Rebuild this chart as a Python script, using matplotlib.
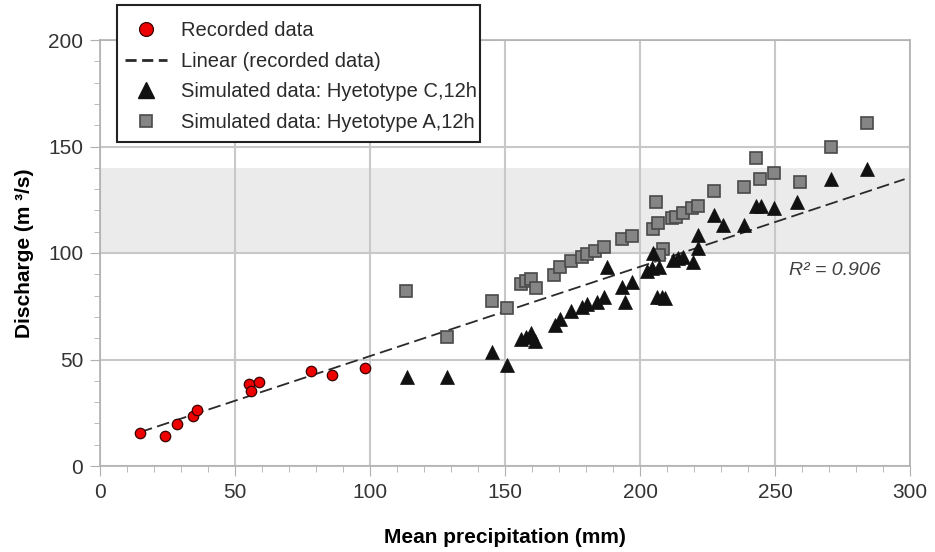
import numpy as np
import matplotlib
matplotlib.use("Agg")
import matplotlib.pyplot as plt
from matplotlib.ticker import MultipleLocator
from matplotlib.lines import Line2D
from matplotlib.patches import Rectangle

plt.rcParams['font.family'] = ['Liberation Sans', 'DejaVu Sans']

# Recorded data
rec_x = [14.8, 24.0, 28.5, 34.4, 36.0, 55.0, 56.0, 59.0, 78.0, 86.0, 98.0]
rec_y = [15.5, 14.0, 19.7, 23.5, 26.3, 38.5, 35.0, 39.4, 44.6, 42.7, 46.0]

# Simulated data: Hyetotype C, 12h (triangles)
c_x = [113.6, 128.4, 145.0, 150.9, 156.0, 157.7, 159.5, 161.0, 168.5, 170.4,
       174.3, 178.4, 180.5, 184.0, 186.7, 187.7, 193.5, 197.0, 194.4, 202.5,
       204.3, 207.1, 204.9, 206.2, 208.0, 209.3, 212.3, 214.2, 216.0, 219.6,
       221.6, 221.5, 227.5, 230.6, 238.5, 242.9, 244.8, 249.8, 258.0, 270.7,
       284.2]
c_y = [41.9, 41.9, 53.7, 47.4, 59.5, 60.4, 62.3, 58.8, 66.0, 69.0,
       72.9, 74.8, 76.1, 77.1, 79.5, 93.3, 84.2, 86.5, 77.1, 91.7,
       92.8, 93.3, 99.8, 79.5, 79.5, 78.7, 96.7, 97.5, 98.3, 95.9,
       102.5, 108.5, 117.8, 113.1, 113.1, 122.0, 122.0, 121.0, 124.1, 134.7,
       139.3]

# Simulated data: Hyetotype A, 12h (squares)
a_x = [113.3, 128.4, 145.0, 150.7, 155.8, 157.8, 159.5, 161.4, 168.3, 170.4,
       174.3, 178.4, 180.5, 183.3, 186.7, 193.5, 197.0, 205.8, 204.8, 206.7,
       208.6, 207.1, 211.7, 213.3, 215.8, 219.1, 221.4, 227.4, 238.5, 243.0,
       244.4, 249.8, 259.3, 270.6, 284.0]
a_y = [82.3, 60.7, 77.6, 74.0, 85.4, 87.0, 87.6, 83.4, 89.9, 93.6,
       96.4, 98.0, 99.5, 101.1, 102.7, 106.4, 108.0, 124.1, 111.3, 113.9,
       101.7, 99.1, 116.3, 117.0, 118.9, 121.0, 122.0, 129.2, 131.1, 144.5,
       134.8, 137.4, 133.5, 149.6, 160.9]

band_low, band_high = 100, 140
r2_text = "R² = 0.906"
trend_end = 298

W, H = 935, 552
fig = plt.figure(figsize=(W/100, H/100), dpi=100)
ax = fig.add_axes([100/W, 1-466/H, 810/W, 426/H])

ax.set_xlim(0, 300)
ax.set_ylim(0, 200)
ax.axhspan(band_low, band_high, color='#ebebeb', zorder=0, lw=0)

ax.xaxis.set_major_locator(MultipleLocator(50))
ax.yaxis.set_major_locator(MultipleLocator(50))
ax.yaxis.set_minor_locator(MultipleLocator(10))
ax.xaxis.set_minor_locator(MultipleLocator(10))
ax.grid(True, which='major', color='#c8c8c8', lw=1.5, zorder=0.5)
ax.set_axisbelow(True)
for s in ax.spines.values():
    s.set_color('#b0b0b0')
    s.set_linewidth(1.2)
ax.tick_params(which='major', direction='out', length=7, color='#b0b0b0',
               labelsize=15, labelcolor='#333333', pad=5)
ax.tick_params(which='minor', direction='out', length=4, color='#b0b0b0')

# Trend line fitted to recorded data
k, b = np.polyfit(rec_x, rec_y, 1)
tx = np.linspace(min(rec_x), trend_end, 50)
ax.plot(tx, k*tx + b, color='#2a2a2a', lw=1.3, dashes=(7, 3), zorder=2)

ax.plot(a_x, a_y, ls='none', marker='s', ms=8.5, mfc='#858585', mec='#4a4a4a',
        mew=1.2, zorder=3)
ax.plot(c_x, c_y, ls='none', marker='^', ms=10, mfc='#111111', mec='#111111',
        mew=0.5, zorder=4)
ax.plot(rec_x, rec_y, ls='none', marker='o', ms=7.5, mfc='#ee0000', mec='#3a0000',
        mew=0.9, zorder=5)

ax.text(272, 92, r2_text, fontsize=14, style='italic', color='#404040',
        ha='center', va='center')

ax.set_xlabel('Mean precipitation (mm)', fontsize=15, fontweight='bold', labelpad=19)
ax.set_ylabel('Discharge (m ³/s)', fontsize=15, fontweight='bold', labelpad=10)

# legend box
fig.add_artist(Rectangle((117/W, 1-142/H), 363/W, 137/H, transform=fig.transFigure,
                         facecolor='white', edgecolor='#222222', lw=1.5, zorder=3))

handles = [
    Line2D([], [], ls='none', marker='o', ms=10, mfc='#ee0000', mec='#3a0000', mew=0.9),
    Line2D([], [], color='#2a2a2a', lw=2, dashes=(4, 2)),
    Line2D([], [], ls='none', marker='^', ms=11, mfc='#111111', mec='#111111'),
    Line2D([], [], ls='none', marker='s', ms=9, mfc='#858585', mec='#4a4a4a', mew=1.2),
]
labels = ['Recorded data', 'Linear (recorded data)',
          'Simulated data: Hyetotype C,12h', 'Simulated data: Hyetotype A,12h']
leg = fig.legend(handles, labels, loc='upper left',
                 bbox_to_anchor=(125/W, 1-21/H), fontsize=14.5,
                 frameon=False, handlelength=2.1, handletextpad=0.7,
                 labelspacing=0.58, borderpad=0, borderaxespad=0)
leg.set_zorder(5)
for t in leg.get_texts():
    t.set_color('#2a2a2a')

fig.savefig('out.png', dpi=100)
